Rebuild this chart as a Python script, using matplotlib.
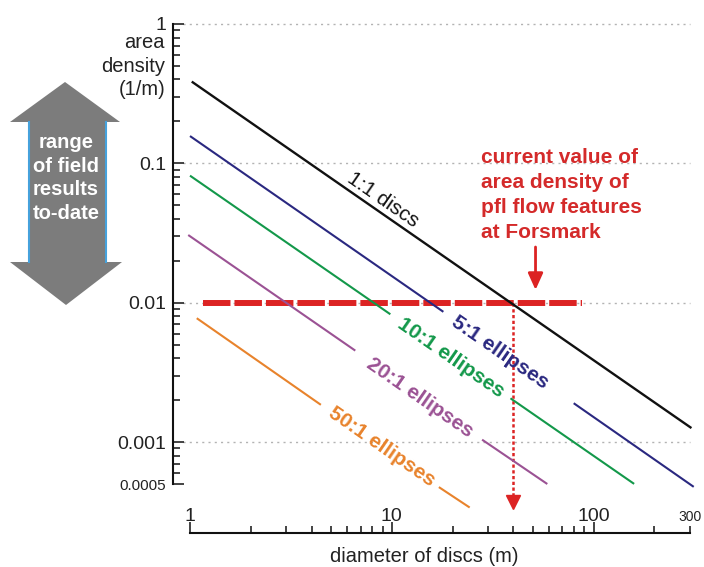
import matplotlib
matplotlib.use("Agg")
import matplotlib.pyplot as plt
from matplotlib.patches import Polygon
from matplotlib.ticker import FixedLocator, NullFormatter

plt.rcParams["font.family"] = ["Liberation Sans", "DejaVu Sans"]

W, H = 704, 567

# area density (1/m) against disc diameter (m); each series is a list of
# drawn segments, broken where the series label sits
disc_x = [[1.02, 305.0]]
disc_y = [[0.386, 0.00126]]
ell5_x = [[1.0, 18.0], [79.6, 313.0]]
ell5_y = [[0.157, 0.0086], [0.0019, 0.000477]]
ell10_x = [[1.0, 9.83], [38.7, 158.6]]
ell10_y = [[0.0816, 0.00826], [0.00206, 0.000501]]
ell20_x = [[0.98, 6.59], [28.0, 58.9]]
ell20_y = [[0.0306, 0.00453], [0.00104, 0.0005]]
ell50_x = [[1.08, 4.45], [17.1, 24.3]]
ell50_y = [[0.00774, 0.00185], [0.000475, 0.000339]]

series_labels = ["1:1 discs", "5:1 ellipses", "10:1 ellipses", "20:1 ellipses", "50:1 ellipses"]
series_colors = ["#111111", "#2a2880", "#13984a", "#9b5294", "#e8832c"]

# current pfl area density at Forsmark and the diameter it implies for discs
forsmark_density = 0.01
forsmark_span = [1.16, 88.0]
forsmark_diameter = 40.0

y_ticks = [0.0005, 0.001, 0.01, 0.1, 1]
y_tick_labels = ["0.0005", "0.001", "0.01", "0.1", "1"]
x_ticks = [1, 10, 100, 300]
x_tick_labels = ["1", "10", "100", "300"]

RED = "#dc2323"
RED_TEXT = "#d42a2a"


def px(x, y):
    """pixel position (y down) -> figure fraction"""
    return x / W, 1 - y / H


fig = plt.figure(figsize=(W / 100, H / 100), dpi=100)
ax = fig.add_axes([190 / W, 1 - 484 / H, 500 / W, 460 / H])
ax.set_xscale("log")
ax.set_yscale("log")
ax.set_xlim(1, 300)
ax.set_ylim(0.0005, 1)

for side in ("top", "right"):
    ax.spines[side].set_visible(False)
ax.spines["left"].set_position(("outward", 17 * 0.72))
ax.spines["bottom"].set_position(("outward", 49 * 0.72))
for side in ("left", "bottom"):
    ax.spines[side].set_linewidth(1.5)
    ax.spines[side].set_color("#111111")

ax.set_yticks(y_ticks)
ax.set_yticklabels(y_tick_labels)
ax.set_xticks(x_ticks)
ax.set_xticklabels(x_tick_labels)
minor_y = [k * 10.0 ** e for e in (-4, -3, -2, -1) for k in range(2, 10)]
minor_y = [v for v in minor_y if 0.0005 < v < 1]
minor_x = [k * 10.0 ** e for e in (0, 1, 2) for k in range(2, 10)]
minor_x = [v for v in minor_x if v < 300]
ax.yaxis.set_minor_locator(FixedLocator(minor_y))
ax.yaxis.set_minor_formatter(NullFormatter())
ax.xaxis.set_minor_locator(FixedLocator(minor_x))
ax.xaxis.set_minor_formatter(NullFormatter())

ax.tick_params(axis="both", which="both", direction="in", width=1.1, color="#111111")
ax.tick_params(axis="both", which="major", length=8)
ax.tick_params(axis="both", which="minor", length=5)
ax.tick_params(axis="y", which="major", pad=5, labelsize=14, labelcolor="#222222")
ax.tick_params(axis="x", which="major", pad=-8.4, labelsize=14, labelcolor="#222222")
for lab in ax.get_xticklabels():
    lab.set_va("baseline")
ax.get_yticklabels()[0].set_fontsize(11)
ax.get_xticklabels()[-1].set_fontsize(10)
ax.xaxis.get_major_ticks()[-1].tick1line.set_markersize(5)

# dotted reference lines at each decade
for v in y_ticks[1:]:
    ax.axhline(v, xmin=-0.014, xmax=1.0, color="#b3b3b3", lw=1.0,
               dashes=(1.5, 3.0), clip_on=False, zorder=0)

# Forsmark value
ax.plot(forsmark_span, [forsmark_density, forsmark_density], color=RED, lw=4.3,
        dashes=(4.6, 0.67), dash_capstyle="butt", zorder=1)

all_x = [disc_x, ell5_x, ell10_x, ell20_x, ell50_x]
all_y = [disc_y, ell5_y, ell10_y, ell20_y, ell50_y]
for xs, ys, c in zip(all_x, all_y, series_colors):
    lw = 1.7 if c == series_colors[0] else 1.5
    for sx, sy in zip(xs, ys):
        ax.plot(sx, sy, color=c, lw=lw, solid_capstyle="butt", clip_on=False, zorder=3)

label_pos = [(9.08, 0.0546), (34.5, 0.00436), (19.7, 0.00402), (13.8, 0.00207), (8.87, 0.000924)]
for (lx, ly), text, c in zip(label_pos, series_labels, series_colors):
    ax.text(lx, ly, text, color=c, fontsize=15, fontweight="bold" if c != series_colors[0] else "normal",
            rotation=-34.7, rotation_mode="anchor", ha="center", va="center", zorder=4)

ax.plot([forsmark_diameter, forsmark_diameter], [forsmark_density, 0.000404], color=RED,
        lw=1.8, dashes=(1.3, 1.0), clip_on=False, zorder=2)
ax.plot([forsmark_diameter], [0.000369], marker="v", ms=10, color=RED, clip_on=False, zorder=2)

ax.annotate("", xy=(51.5, 0.01235), xytext=(51.5, 0.0251),
            arrowprops=dict(arrowstyle="-|>,head_length=1.0,head_width=0.45", mutation_scale=10,
                            color=RED, lw=2, shrinkA=0, shrinkB=0))
fig.text(*px(481, 195), "current value of\narea density of\npfl flow features\nat Forsmark",
         color=RED_TEXT, fontsize=15, fontweight="bold", ha="left", va="center", linespacing=1.4)

# axis titles
fig.text(*px(165, 66), "area\ndensity\n(1/m)", fontsize=14.5, color="#222222",
         ha="right", va="center", multialignment="right", linespacing=1.3)
fig.text(*px(424, 557), "diameter of discs (m)", fontsize=14.5, color="#222222",
         ha="center", va="center")

# double arrow for the spread of field results
arrow_pts = [(65, 82), (120, 122), (106, 122), (106, 262), (122, 262), (66, 305),
             (10, 262), (29, 262), (29, 122), (10, 122)]
fig.add_artist(Polygon([px(x, y) for x, y in arrow_pts], closed=True,
                       transform=fig.transFigure, facecolor="#7c7c7c", edgecolor="none"))
for xe in (29, 106):
    fig.add_artist(plt.Line2D([px(xe, 0)[0]] * 2, [px(0, 122)[1], px(0, 262)[1]],
                              transform=fig.transFigure, color="#46a2dc", lw=1.5))
fig.text(*px(66, 178), "range\nof field\nresults\nto-date", color="white", fontsize=14.5,
         fontweight="bold", ha="center", va="center", linespacing=1.33)

fig.savefig("out.png", dpi=100)
